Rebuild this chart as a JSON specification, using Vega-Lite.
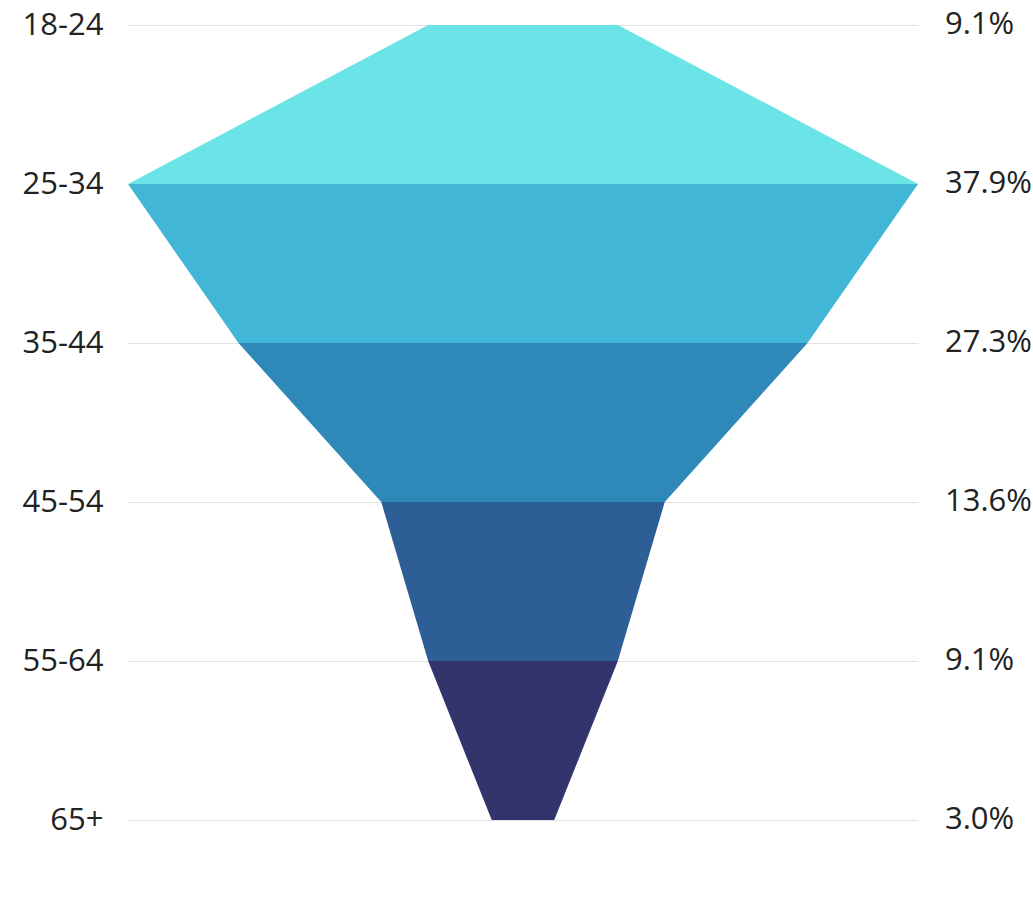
{
  "$schema": "https://vega.github.io/schema/vega-lite/v6.json",
  "autosize": {"type": "none"},
  "padding": {"left": 128, "top": 25, "right": 115, "bottom": 89},
  "width": 790,
  "height": 795,
  "background": "white",
  "config": {"view": {"stroke": null}, "font": "Open Sans"},
  "datasets": {
    "bands": [
      {"band": "1", "age": "18-24", "share": 9.1},
      {"band": "1", "age": "25-34", "share": 37.9},
      {"band": "2", "age": "25-34", "share": 37.9},
      {"band": "2", "age": "35-44", "share": 27.3},
      {"band": "3", "age": "35-44", "share": 27.3},
      {"band": "3", "age": "45-54", "share": 13.6},
      {"band": "4", "age": "45-54", "share": 13.6},
      {"band": "4", "age": "55-64", "share": 9.1},
      {"band": "5", "age": "55-64", "share": 9.1},
      {"band": "5", "age": "65+", "share": 3.0}
    ],
    "levels": [
      {"age": "18-24", "label": "9.1%"},
      {"age": "25-34", "label": "37.9%"},
      {"age": "35-44", "label": "27.3%"},
      {"age": "45-54", "label": "13.6%"},
      {"age": "55-64", "label": "9.1%"},
      {"age": "65+", "label": "3.0%"}
    ]
  },
  "layer": [
    {
      "data": {"name": "bands"},
      "transform": [
        {"stack": "share", "groupby": ["band", "age"], "offset": "center", "as": ["x0", "x1"]}
      ],
      "mark": {"type": "area", "orient": "horizontal", "opacity": 1},
      "encoding": {
        "y": {
          "field": "age", "type": "ordinal",
          "sort": ["18-24", "25-34", "35-44", "45-54", "55-64", "65+"],
          "scale": {"type": "point", "padding": 0},
          "axis": {
            "title": null, "orient": "left", "grid": true, "gridColor": "#e2e2e2", "gridWidth": 1,
            "domain": false, "ticks": false, "labelFontSize": 31, "labelPadding": 25,
            "labelColor": "#222222", "labelFont": "Open Sans", "labelAlign": "right", "labelBaseline": "middle"
          }
        },
        "x": {
          "field": "x0", "type": "quantitative", "stack": null,
          "scale": {"domain": [0, 37.9], "nice": false, "zero": false},
          "axis": null
        },
        "x2": {"field": "x1"},
        "color": {
          "field": "band", "type": "nominal", "legend": null,
          "scale": {"domain": ["1", "2", "3", "4", "5"], "range": ["#6AE4E6", "#41B6D6", "#2E89B8", "#2E5E96", "#33346B"]}
        }
      }
    },
    {
      "data": {"name": "levels"},
      "mark": {"type": "text", "align": "left", "baseline": "middle", "dx": 27, "fontSize": 31, "font": "Open Sans", "color": "#222222"},
      "encoding": {
        "y": {"field": "age", "type": "ordinal", "sort": ["18-24", "25-34", "35-44", "45-54", "55-64", "65+"]},
        "x": {"datum": 37.9, "type": "quantitative"},
        "text": {"field": "label"}
      }
    }
  ]
}
